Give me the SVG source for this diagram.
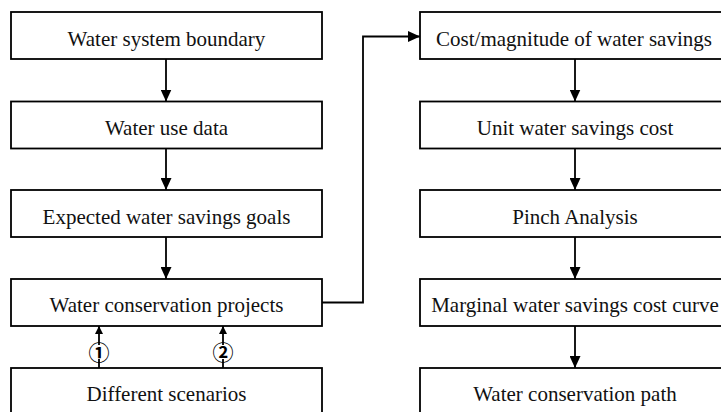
<svg xmlns="http://www.w3.org/2000/svg" width="721" height="412" viewBox="0 0 721 412">
<style>
.box{fill:#fff;stroke:#000;stroke-width:1.8}
.t{font-family:"Liberation Serif","Times New Roman",serif;font-size:21px;fill:#111;text-anchor:middle}
.c{stroke:#000;stroke-width:1.8;fill:none}
.n{font-family:"Noto Sans CJK SC","DejaVu Sans",sans-serif;font-size:21px;font-weight:bold;fill:#000;text-anchor:middle}
</style>
<defs>
<marker id="ah" markerWidth="12" markerHeight="11" refX="12" refY="5.5" orient="auto" markerUnits="userSpaceOnUse" viewBox="0 0 12 11">
<path d="M0,0 L12,5.5 L0,11 Z" fill="#000"/>
</marker>
<marker id="as" markerWidth="8" markerHeight="8" refX="8" refY="4" orient="auto" markerUnits="userSpaceOnUse" viewBox="0 0 8 8">
<path d="M0,0 L8,4 L0,8 Z" fill="#000"/>
</marker>
</defs>
<g id="n1"><rect class="box" x="11" y="12" width="311" height="47"/><text class="t" x="166.5" y="45.5">Water system boundary</text></g>
<g id="n2"><rect class="box" x="11" y="101.5" width="311" height="47"/><text class="t" x="166.5" y="135">Water use data</text></g>
<g id="n3"><rect class="box" x="11" y="190" width="311" height="47"/><text class="t" x="166.5" y="223.5">Expected water savings goals</text></g>
<g id="n4"><rect class="box" x="11" y="279" width="311" height="47"/><text class="t" x="166.5" y="312">Water conservation projects</text></g>
<g id="n5"><rect class="box" x="11" y="368" width="311" height="60"/><text class="t" x="166.5" y="401">Different scenarios</text></g>
<g id="m1"><rect class="box" x="420" y="12" width="320" height="47"/><text class="t" x="574" y="45.5">Cost/magnitude of water savings</text></g>
<g id="m2"><rect class="box" x="420" y="101.5" width="320" height="47"/><text class="t" x="575" y="135">Unit water savings cost</text></g>
<g id="m3"><rect class="box" x="420" y="190" width="320" height="47"/><text class="t" x="575" y="223.5">Pinch Analysis</text></g>
<g id="m4"><rect class="box" x="420" y="279" width="320" height="47"/><text class="t" x="575" y="312">Marginal water savings cost curve</text></g>
<g id="m5"><rect class="box" x="420" y="368" width="320" height="60"/><text class="t" x="575" y="401">Water conservation path</text></g>
<g id="connectors">
<line class="c" x1="166" y1="59" x2="166" y2="101.5" marker-end="url(#ah)"/>
<line class="c" x1="166" y1="148.5" x2="166" y2="190" marker-end="url(#ah)"/>
<line class="c" x1="166" y1="237" x2="166" y2="279" marker-end="url(#ah)"/>
<line class="c" x1="575" y1="59" x2="575" y2="101.5" marker-end="url(#ah)"/>
<line class="c" x1="575" y1="148.5" x2="575" y2="190" marker-end="url(#ah)"/>
<line class="c" x1="575" y1="237" x2="575" y2="279" marker-end="url(#ah)"/>
<line class="c" x1="575" y1="326" x2="575" y2="368" marker-end="url(#ah)"/>
<polyline class="c" points="322,302.5 363,302.5 363,36.5 420,36.5" marker-end="url(#ah)"/>
<line class="c" x1="99" y1="368" x2="99" y2="359"/>
<line class="c" x1="99" y1="345" x2="99" y2="326" marker-end="url(#as)"/>
<line class="c" x1="223" y1="368" x2="223" y2="359"/>
<line class="c" x1="223" y1="345" x2="223" y2="326" marker-end="url(#as)"/>
</g>
<text class="n" x="99" y="360">①</text>
<text class="n" x="223" y="360">②</text>
</svg>
